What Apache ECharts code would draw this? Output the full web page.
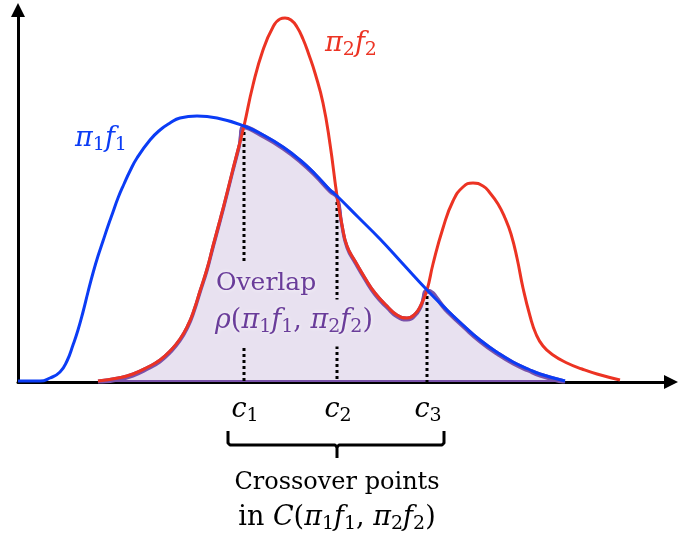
<!DOCTYPE html>
<html>
<head>
<meta charset="utf-8">
<script src="https://cdn.jsdelivr.net/npm/echarts@6/dist/echarts.min.js"></script>
<style>
html, body { margin: 0; padding: 0; background: #fff; }
#chart { width: 678px; height: 539px; }
</style>
</head>
<body>
<div id="chart"></div>
<script>
// Puntos: [x, altura] en unidades de los ejes
const blueCurve = [
    [0, 1], [22, 1], [32, 4], [42, 10], [49, 21], [55, 37], [60, 52], [65, 70],
    [70, 90], [75, 109], [80, 126], [85, 141], [90, 156], [95, 170], [100, 184],
    [106, 198], [112, 211], [119, 224], [132, 242], [142, 252], [152, 259],
    [162, 264], [179, 266], [199, 264], [226, 256], [247, 246], [265, 235],
    [282, 222], [297, 208], [312, 192], [319, 186], [340, 165], [362, 143],
    [385, 118], [409, 92], [429, 72], [446, 56], [462, 42], [480, 29],
    [495, 20], [510, 13], [522, 8], [547, 1]
];
const redCurve = [
    [80, 1], [100, 4], [115, 8], [130, 15], [142, 22], [152, 31], [162, 43],
    [170, 57], [176, 72], [182, 91], [189, 113], [195, 136], [202, 162],
    [209, 189], [215, 213], [221, 236], [226, 256], [235, 297], [245, 332],
    [255, 355], [262, 363], [267, 364], [273, 362], [279, 355], [285, 343],
    [291, 327], [297, 309], [305, 279], [312, 238], [319, 186], [324, 157],
    [329, 136], [337, 121], [347, 104], [357, 89], [369, 76], [379, 67],
    [389, 64], [397, 68], [403, 77], [409, 92], [415, 118], [425, 154],
    [435, 181], [445, 195], [455, 199], [465, 196], [472, 189], [480, 178],
    [487, 164], [493, 148], [499, 124], [505, 94], [512, 66], [518, 48],
    [525, 36], [535, 27], [549, 19], [564, 13], [579, 8], [602, 2]
];
// Puntos de cruce (x) y sus subíndices
const crossovers = [226, 319, 409];
const crossNames = ['1', '2', '3'];

const BLUE = '#0b3cf5';
const RED = '#ec3323';
const PURPLE = '#6a3d9a';
const EDGE = '#7a52aa';
const FILL = '#e8e1f0';
const SERIF = '"DejaVu Serif", "Liberation Serif", serif';

// Solapamiento: la curva más baja en cada tramo entre cruces
const overlap = redCurve.filter(p => p[0] <= crossovers[0])
    .concat(blueCurve.filter(p => p[0] > crossovers[0] && p[0] <= crossovers[1]))
    .concat(redCurve.filter(p => p[0] > crossovers[1] && p[0] <= crossovers[2]))
    .concat(blueCurve.filter(p => p[0] > crossovers[2]));

const crossHeights = crossovers.map(c => blueCurve.find(p => p[0] === c)[1]);

// Estilos de texto matemático (cursiva + subíndices)
function mathRich(size) {
    return {
        i: { fontFamily: SERIF, fontStyle: 'italic', fontSize: size, lineHeight: size + 4 },
        n: { fontFamily: SERIF, fontSize: size, lineHeight: size + 4 },
        s: { fontFamily: SERIF, fontSize: Math.round(size * 0.7), lineHeight: 10, verticalAlign: 'bottom' }
    };
}

const chart = echarts.init(document.getElementById('chart'));

const dottedSeries = crossovers.map((c, idx) => ({
    type: 'line',
    z: 3,
    silent: true,
    symbol: 'none',
    lineStyle: { color: '#000', width: 3, type: [3, 3] },
    data: [[c, crossHeights[idx] - 6], [c, 0]]
}));

const axisLine = {
    show: true,
    lineStyle: { color: '#000', width: 3 },
    symbol: ['none', 'triangle'],
    symbolSize: [14, 14]
};

const option = {
    animation: false,
    grid: { left: 18, right: 7, top: 10, bottom: 157 },
    xAxis: {
        type: 'value', min: 0, max: 653, axisLine: axisLine,
        axisTick: { show: false }, axisLabel: { show: false }, splitLine: { show: false }
    },
    yAxis: {
        type: 'value', min: 0, max: 372, axisLine: axisLine,
        axisTick: { show: false }, axisLabel: { show: false }, splitLine: { show: false }
    },
    series: [
        {
            name: 'overlap', type: 'line', z: 2, symbol: 'none', smooth: 0.5,
            lineStyle: { color: EDGE, width: 3, shadowColor: EDGE, shadowOffsetY: 2, shadowBlur: 0 },
            areaStyle: { color: FILL, opacity: 1 },
            data: overlap
        },
        {
            name: 'overlapBase', type: 'line', z: 2, symbol: 'none',
            lineStyle: { color: EDGE, width: 2 },
            data: [overlap[0], overlap[overlap.length - 1]]
        },
        ...dottedSeries,
        {
            name: 'pi2f2', type: 'line', z: 5, symbol: 'none', smooth: 0.5,
            lineStyle: { color: RED, width: 3 },
            data: redCurve
        },
        {
            name: 'pi1f1', type: 'line', z: 6, symbol: 'none', smooth: 0.5,
            lineStyle: { color: BLUE, width: 3 },
            data: blueCurve
        }
    ]
};
chart.setOption(option);

// Etiquetas y llave, ubicadas a partir de los ejes
const px = crossovers.map(c => chart.convertToPixel({ gridIndex: 0 }, [c, 0]));
const baseY = px[0][1];
const left = px[0][0] - 16, right = px[2][0] + 17, mid = px[1][0];
const braceTop = baseY + 49, braceY = baseY + 63, braceTip = baseY + 76;

const glow = { textShadowColor: 'rgba(255,255,255,0.95)', textShadowBlur: 4 };
const braceStyle = { stroke: '#000', lineWidth: 3, fill: null, lineJoin: 'round', lineCap: 'butt' };

const graphics = [
    {
        type: 'text', x: 101, y: 139, z: 100,
        style: {
            text: '{i|π}{s|1}{i|f}{s|1}', rich: mathRich(27), fill: BLUE,
            align: 'center', verticalAlign: 'middle'
        }
    },
    {
        type: 'text', x: 351, y: 44, z: 100,
        style: {
            text: '{i|π}{s|2}{i|f}{s|2}', rich: mathRich(27), fill: RED,
            align: 'center', verticalAlign: 'middle'
        }
    },
    {
        type: 'text', x: 214, y: 283, z: 100,
        style: Object.assign({
            text: 'Overlap', fill: PURPLE, font: '25px ' + SERIF,
            align: 'left', verticalAlign: 'middle',
            backgroundColor: FILL, padding: [9, 2, 6, 2]
        }, glow)
    },
    {
        type: 'text', x: 213, y: 323, z: 100,
        style: Object.assign({
            text: '{i|ρ}{n|(}{i|π}{s|1}{i|f}{s|1}{n|, }{i|π}{s|2}{i|f}{s|2}{n|)}', rich: mathRich(27), fill: PURPLE,
            align: 'left', verticalAlign: 'middle',
            backgroundColor: FILL, padding: [6, 2, 10, 2]
        }, glow)
    },
    {
        type: 'polyline', z: 100,
        shape: { points: [[left, braceTop], [left, braceY - 2], [left + 2, braceY], [mid - 2, braceY], [mid, braceY + 2]] },
        style: braceStyle
    },
    {
        type: 'polyline', z: 100,
        shape: { points: [[right, braceTop], [right, braceY - 2], [right - 2, braceY], [mid + 2, braceY], [mid, braceY + 2]] },
        style: braceStyle
    },
    {
        type: 'line', z: 100,
        shape: { x1: mid, y1: braceY + 1, x2: mid, y2: braceTip },
        style: { stroke: '#000', lineWidth: 3 }
    },
    {
        type: 'text', x: mid, y: 483, z: 100,
        style: { text: 'Crossover points', fill: '#000', font: '24px ' + SERIF, align: 'center', verticalAlign: 'middle' }
    },
    {
        type: 'text', x: mid, y: 518, z: 100,
        style: {
            text: '{n|in }{i|C}{n|(}{i|π}{s|1}{i|f}{s|1}{n|, }{i|π}{s|2}{i|f}{s|2}{n|)}', rich: mathRich(27), fill: '#000',
            align: 'center', verticalAlign: 'middle'
        }
    }
];

px.forEach((p, idx) => {
    graphics.push({
        type: 'text', x: p[0] + 1, y: baseY + 28, z: 100,
        style: {
            text: '{i|c}{s|' + crossNames[idx] + '}', rich: mathRich(27), fill: '#000',
            align: 'center', verticalAlign: 'middle'
        }
    });
});

chart.setOption({ graphic: graphics });
</script>
</body>
</html>
